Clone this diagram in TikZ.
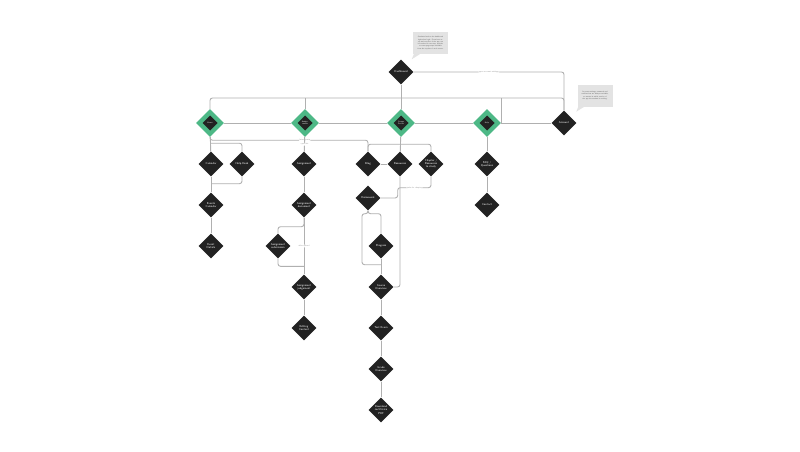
\documentclass[tikz,border=0pt]{standalone}
\usetikzlibrary{shapes.geometric}
\definecolor{nodefill}{HTML}{222222}
\definecolor{mint}{HTML}{4DB886}
\definecolor{wire}{HTML}{B0B0B0}
\definecolor{notefill}{HTML}{E3E3E3}
\tikzstyle{darkbox} = [diamond, minimum width=25pt, minimum height=25pt, inner sep=0pt, fill=nodefill, text=white, align=center, font=\sffamily\fontsize{2.8}{3.2}\selectfont]
\tikzstyle{greenbox} = [diamond, minimum width=28pt, minimum height=28pt, inner sep=0pt, fill=mint, text=white, align=center, font=\sffamily\fontsize{2}{2.4}\selectfont,
path picture={\fill[nodefill] ([yshift=7.5pt]path picture bounding box.center) -- ([xshift=7.5pt]path picture bounding box.center) -- ([yshift=-7.5pt]path picture bounding box.center) -- ([xshift=-7.5pt]path picture bounding box.center) -- cycle;}]
\tikzstyle{notebox} = [rectangle, fill=notefill, minimum width=35pt, minimum height=22pt, text width=30pt, align=center, inner sep=2pt, text=black!70, font=\sffamily\fontsize{1.8}{2.3}\selectfont]
\tikzstyle{link} = [draw=wire, line width=0.9pt, rounded corners=2.5pt]
\tikzstyle{linelabel} = [fill=white, inner sep=0.5pt, text=black!45, font=\sffamily\fontsize{2}{2.4}\selectfont]

\begin{document}
\begin{tikzpicture}[x=1pt, y=1pt, node distance=41pt]

    \path[use as bounding box, fill=white] (0,0) rectangle (800,451);

    \node (dash) [darkbox] at (401,379) {Dashboard};

    \node (note1) [notebox] at (430.5,408) {Students land on the dashboard right after login. From here every main section of the app can be reached in one step, and the account page stays available from the top bar of each screen.};
    \node (note2) [notebox] at (595,355.5) {Account settings, password and notifications are always reachable, no matter in which section of the app the student is working.};

    \node (profile) [greenbox, below of=dash, yshift=-10pt] {Course\\Profile};

    \node (assign) [greenbox, left of=profile, xshift=-55pt] {Assign-\\ments};

    \node (home) [greenbox, left of=assign, xshift=-54pt] {Home};

    \node (help) [greenbox, right of=profile, xshift=45pt] {Help};

    \node (account) [darkbox, right of=help, xshift=36pt] {Account};

    % home branch
    \node (calendar) [darkbox, below of=home, xshift=1pt] {Calendar};
    \node (helpdesk) [darkbox, right of=calendar, xshift=-10pt] {Help Desk};
    \node (events) [darkbox, below of=calendar] {Events\\Calendar};
    \node (eventinfo) [darkbox, below of=events] {Event\\Details};

    % assignments branch
    \node (assignment) [darkbox, below of=assign, xshift=-1pt] {Assignment};
    \node (assigndoc) [darkbox, below of=assignment] {Assignment\\document};
    \node (submission) [darkbox, below of=assigndoc, xshift=-26pt] {Assignment\\submission};
    \node (judgement) [darkbox, below of=assigndoc, yshift=-41pt] {Assignment\\judgement};
    \node (editing) [darkbox, below of=judgement] {Editing\\Content};

    % course branch
    \node (blog) [darkbox, below of=profile, xshift=-33pt] {Blog};
    \node (resources) [darkbox, below of=profile, xshift=-1pt] {Resources};
    \node (chapter) [darkbox, below of=profile, xshift=30pt] {Chapter /\\Resources\\to study};
    \node (homework) [darkbox, below of=blog, yshift=7pt] {Homework};
    \node (quiz) [darkbox, below of=homework, xshift=13pt, yshift=-7pt] {Progress};
    \node (course) [darkbox, below of=quiz] {Course\\Overview};
    \node (exam) [darkbox, below of=course] {Test Exam};
    \node (grade) [darkbox, below of=exam] {Grade\\Overview};
    \node (certificate) [darkbox, below of=grade] {Download\\certificate\\PDF};

    % help branch
    \node (faq) [darkbox, below of=help] {FAQ /\\Questions};
    \node (contact) [darkbox, below of=faq] {Contact};

    % speech bubble tails
    \fill[notefill] ([xshift=1pt]note1.south west) -- ([xshift=7pt]note1.south west) -- ([xshift=-1pt,yshift=-5pt]note1.south west) -- cycle;
    \fill[notefill] ([xshift=1pt]note2.south west) -- ([xshift=7pt]note2.south west) -- ([xshift=-1pt,yshift=-5pt]note2.south west) -- cycle;

    \coordinate (bus) at ([yshift=25pt]home.center);

    \draw[link] (dash.east) -| node[linelabel, pos=0.25] {open account settings} (account.north);
    \draw[link] (dash) -- (profile);
    \draw[link] (home.north) -- (bus) -| (account.north);
    \draw[link] (assign.north) -- (assign.north |- bus);
    \draw[link] (help.east |- bus) -- (help.east);
    \draw[link] (home) -- (assign) -- (profile) -- (help) -- (account);

    \draw[link] (home.south) -- ++(0,-3pt) -| node[linelabel, pos=0.3] {latest posts} (blog.north);
    \draw[link] (home) -- (calendar);
    \draw[link] ([yshift=-6pt]home.south) -| (helpdesk.north);
    \draw[link] (calendar) -- (events);
    \draw[link] (helpdesk.south) |- ([yshift=-7pt]calendar.south);
    \draw[link] (events) -- (eventinfo);

    \draw[link] (assign) -- node[linelabel] {open list} (assignment);
    \draw[link] (assignment) -- (assigndoc);
    \draw[link] (assigndoc.south) -- ++(0,-9pt) -| (submission.north);
    \draw[link] (assigndoc) -- node[linelabel] {after upload} (judgement);
    \draw[link] (submission.south) |- ([yshift=8pt]judgement.north);
    \draw[link] (judgement) -- (editing);

    \draw[link] (blog) -- (resources);
    \draw[link] (blog.north) |- ([yshift=-7pt]profile.south) -| (chapter.north);
    \draw[link] (profile) -- (resources);
    \draw[link] (chapter.south) -- ++(0,-11pt) -| node[linelabel, pos=0.25] {tasks for chapter} ([xshift=17pt]homework.east) -- (homework.east);
    \draw[link] (resources.south) |- (course.east);
    \draw[link] (homework.south) -- ++(0,-3pt) -| (quiz.north);
    \draw[link] (homework.south) -- ++(0,-3pt) -- ++(-6pt,0) |- ([yshift=-6pt]quiz.south);
    \draw[link] (quiz) -- (course);
    \draw[link] (course) -- (exam);
    \draw[link] (exam) -- (grade);
    \draw[link] (grade) -- (certificate);

    \draw[link] (help) -- (faq);
    \draw[link] (faq) -- (contact);

\end{tikzpicture}
\end{document}
